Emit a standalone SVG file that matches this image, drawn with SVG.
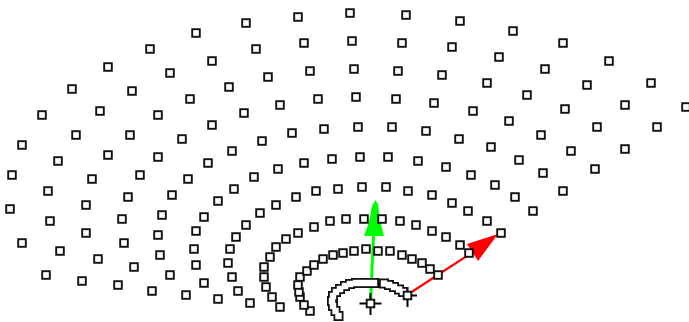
<svg xmlns="http://www.w3.org/2000/svg" width="689" height="322" viewBox="0 0 689 322">
<style>
.b{fill:#fff;stroke:#111;stroke-width:1.900}
.k{fill:#111}
.w{fill:#fff}
.x{stroke:#000;stroke-width:2;fill:none}
</style>
<defs>
<rect id="b" class="b" x="-3.800" y="-3.800" width="7.600" height="7.600"/>
<rect id="o" class="k" x="-5" y="-5" width="10" height="10"/>
<rect id="i" class="w" x="-3.200" y="-3.200" width="6.400" height="6.400"/>
</defs>
<rect width="689" height="322" fill="#fff"/>
<g id="connectors">
<g id="vector-green"><path d="M370.500 303L375 204" stroke="#0f0" stroke-width="3" fill="none"/><path d="M375.500 200L378 204L380 220L384 236L364 236L369 222L372 206Z" fill="#0f0"/></g>
<g id="vector-red"><path d="M407 295L476 250" stroke="#f00" stroke-width="2.200" fill="none"/><path d="M498 234L478 261L467 244Z" fill="#f00"/></g>
<g id="cross-a" class="x"><path d="M359.500 303.500H381.500M370.500 293V315"/></g>
<g id="cross-b" class="x"><path d="M398 295.500H417M407.500 287V307"/></g>
</g>
<g id="innermost-arc-left">
<use href="#o" x="338.500" y="316"/><use href="#o" x="335.500" y="311"/><use href="#o" x="333" y="306"/><use href="#o" x="332" y="301"/><use href="#o" x="333" y="296"/><use href="#o" x="336" y="292"/><use href="#o" x="340" y="289"/><use href="#o" x="345" y="286"/><use href="#o" x="350" y="284"/><use href="#o" x="356" y="283"/><use href="#o" x="362" y="283"/><use href="#o" x="368" y="283"/><use href="#o" x="374" y="283"/>
<use href="#i" x="338.500" y="316"/><use href="#i" x="335.500" y="311"/><use href="#i" x="333" y="306"/><use href="#i" x="332" y="301"/><use href="#i" x="333" y="296"/><use href="#i" x="336" y="292"/><use href="#i" x="340" y="289"/><use href="#i" x="345" y="286"/><use href="#i" x="350" y="284"/><use href="#i" x="356" y="283"/><use href="#i" x="362" y="283"/><use href="#i" x="368" y="283"/><use href="#i" x="374" y="283"/>
</g>
<g id="innermost-arc-right">
<use href="#o" x="384" y="283.500"/><use href="#o" x="389" y="285"/><use href="#o" x="394" y="287"/><use href="#o" x="399" y="289.500"/><use href="#o" x="403" y="292"/>
<use href="#i" x="384" y="283.500"/><use href="#i" x="389" y="285"/><use href="#i" x="394" y="287"/><use href="#i" x="399" y="289.500"/><use href="#i" x="403" y="292"/>
</g>
<g id="centre-a"><use href="#b" x="370.500" y="303.500"/></g>
<g id="centre-b"><use href="#b" x="407.500" y="295.500"/></g>
<g id="ring-2">
<use href="#b" x="310" y="311"/><use href="#b" x="304" y="305"/><use href="#b" x="300" y="297"/><use href="#b" x="299" y="292"/><use href="#b" x="298" y="285"/><use href="#b" x="300" y="277"/><use href="#b" x="307" y="271"/><use href="#b" x="314" y="265"/><use href="#b" x="323" y="259"/><use href="#b" x="333" y="255"/><use href="#b" x="343" y="253"/><use href="#b" x="354" y="251"/><use href="#b" x="366" y="249"/><use href="#b" x="378" y="251"/><use href="#b" x="390" y="251"/><use href="#b" x="402" y="255"/><use href="#b" x="412" y="259"/><use href="#b" x="422" y="263"/><use href="#b" x="430" y="269"/><use href="#b" x="438" y="275"/>
</g>
<g id="ring-3">
<use href="#b" x="280" y="307"/><use href="#b" x="272" y="297"/><use href="#b" x="266" y="287"/><use href="#b" x="264" y="277"/><use href="#b" x="264" y="267"/><use href="#b" x="270" y="257"/><use href="#b" x="276" y="247"/><use href="#b" x="286" y="239"/><use href="#b" x="298" y="233"/><use href="#b" x="314" y="227"/><use href="#b" x="330" y="221"/><use href="#b" x="346" y="219"/><use href="#b" x="364" y="219"/><use href="#b" x="382" y="219"/><use href="#b" x="400" y="221"/><use href="#b" x="416" y="225"/><use href="#b" x="432" y="231"/><use href="#b" x="446" y="237"/><use href="#b" x="460" y="245"/><use href="#b" x="469" y="253"/>
</g>
<g id="ring-4">
<use href="#b" x="250" y="303"/><use href="#b" x="238" y="291"/><use href="#b" x="232" y="277"/><use href="#b" x="228" y="263"/><use href="#b" x="230" y="249"/><use href="#b" x="236" y="237"/><use href="#b" x="246" y="225"/><use href="#b" x="260" y="213"/><use href="#b" x="276" y="205"/><use href="#b" x="296" y="197"/><use href="#b" x="316" y="191"/><use href="#b" x="338" y="189"/><use href="#b" x="362" y="187"/><use href="#b" x="386" y="187"/><use href="#b" x="408" y="191"/><use href="#b" x="432" y="195"/><use href="#b" x="452" y="203"/><use href="#b" x="468" y="211"/><use href="#b" x="487" y="221"/><use href="#b" x="501" y="233"/>
</g>
<g id="ring-5">
<use href="#b" x="218" y="299"/><use href="#b" x="204" y="283"/><use href="#b" x="196" y="265"/><use href="#b" x="194" y="249"/><use href="#b" x="196" y="231"/><use href="#b" x="204" y="217"/><use href="#b" x="218" y="201"/><use href="#b" x="234" y="189"/><use href="#b" x="254" y="177"/><use href="#b" x="278" y="169"/><use href="#b" x="304" y="163"/><use href="#b" x="332" y="159"/><use href="#b" x="360" y="157"/><use href="#b" x="388" y="157"/><use href="#b" x="418" y="161"/><use href="#b" x="446" y="167"/><use href="#b" x="471" y="175"/><use href="#b" x="495" y="185"/><use href="#b" x="515" y="197"/><use href="#b" x="533" y="211"/>
</g>
<g id="ring-6">
<use href="#b" x="186" y="295"/><use href="#b" x="170" y="275"/><use href="#b" x="160" y="255"/><use href="#b" x="158" y="235"/><use href="#b" x="162" y="215"/><use href="#b" x="172" y="195"/><use href="#b" x="188" y="179"/><use href="#b" x="208" y="163"/><use href="#b" x="232" y="151"/><use href="#b" x="262" y="141"/><use href="#b" x="292" y="133"/><use href="#b" x="324" y="129"/><use href="#b" x="358" y="127"/><use href="#b" x="392" y="127"/><use href="#b" x="426" y="131"/><use href="#b" x="459" y="139"/><use href="#b" x="491" y="147"/><use href="#b" x="519" y="160"/><use href="#b" x="543" y="173"/><use href="#b" x="563" y="191"/>
</g>
<g id="ring-7">
<use href="#b" x="152" y="291"/><use href="#b" x="134" y="267"/><use href="#b" x="124" y="243"/><use href="#b" x="122" y="219"/><use href="#b" x="128" y="197"/><use href="#b" x="140" y="175"/><use href="#b" x="158" y="157"/><use href="#b" x="182" y="139"/><use href="#b" x="212" y="125"/><use href="#b" x="244" y="113"/><use href="#b" x="280" y="105"/><use href="#b" x="318" y="99"/><use href="#b" x="356" y="97"/><use href="#b" x="396" y="99"/><use href="#b" x="434" y="103"/><use href="#b" x="473" y="111"/><use href="#b" x="509" y="121"/><use href="#b" x="541" y="135"/><use href="#b" x="571" y="151"/><use href="#b" x="595" y="169"/>
</g>
<g id="ring-8">
<use href="#b" x="118" y="285"/><use href="#b" x="98" y="259"/><use href="#b" x="86" y="233"/><use href="#b" x="86" y="205"/><use href="#b" x="92" y="179"/><use href="#b" x="108" y="155"/><use href="#b" x="130" y="135"/><use href="#b" x="158" y="115"/><use href="#b" x="190" y="99"/><use href="#b" x="229" y="87"/><use href="#b" x="268" y="77"/><use href="#b" x="310" y="71"/><use href="#b" x="354" y="69"/><use href="#b" x="398" y="71"/><use href="#b" x="442" y="75"/><use href="#b" x="487" y="83"/><use href="#b" x="527" y="95"/><use href="#b" x="565" y="109"/><use href="#b" x="597" y="127"/><use href="#b" x="625" y="149"/>
</g>
<g id="ring-9">
<use href="#b" x="82" y="281"/><use href="#b" x="60" y="251"/><use href="#b" x="50" y="221"/><use href="#b" x="48" y="191"/><use href="#b" x="58" y="161"/><use href="#b" x="76" y="135"/><use href="#b" x="100" y="111"/><use href="#b" x="132" y="91"/><use href="#b" x="170" y="73"/><use href="#b" x="212" y="61"/><use href="#b" x="256" y="49"/><use href="#b" x="304" y="43"/><use href="#b" x="352" y="41"/><use href="#b" x="402" y="43"/><use href="#b" x="452" y="47"/><use href="#b" x="499" y="57"/><use href="#b" x="545" y="69"/><use href="#b" x="587" y="85"/><use href="#b" x="625" y="105"/><use href="#b" x="657" y="127"/>
</g>
<g id="ring-10">
<use href="#b" x="46" y="275"/><use href="#b" x="22" y="243"/><use href="#b" x="10" y="209"/><use href="#b" x="12" y="175"/><use href="#b" x="22" y="145"/><use href="#b" x="42" y="115"/><use href="#b" x="72" y="89"/><use href="#b" x="108" y="67"/><use href="#b" x="150" y="49"/><use href="#b" x="196" y="33"/><use href="#b" x="246" y="23"/><use href="#b" x="298" y="17"/><use href="#b" x="350" y="13"/><use href="#b" x="406" y="15"/><use href="#b" x="460" y="21"/><use href="#b" x="513" y="31"/><use href="#b" x="563" y="43"/><use href="#b" x="609" y="61"/><use href="#b" x="651" y="83"/><use href="#b" x="686" y="107"/>
</g>
</svg>
